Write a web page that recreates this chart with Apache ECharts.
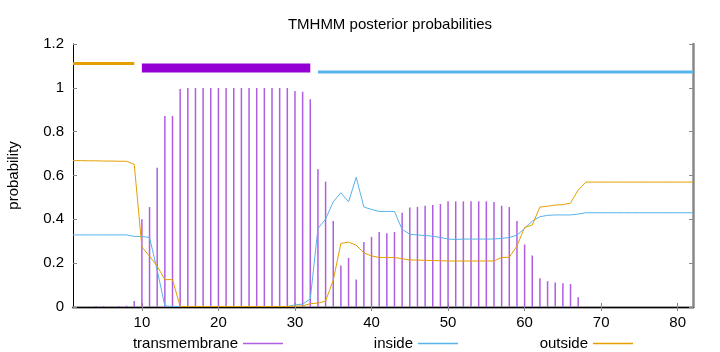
<!DOCTYPE html>
<html style="height: 100%">
<head>
    <meta charset="utf-8">
    <title>TMHMM posterior probabilities</title>
</head>
<body style="height: 100%; margin: 0">
    <div id="container" style="width: 720px; height: 352px"></div>
    <script type="text/javascript" src="https://cdn.jsdelivr.net/npm/echarts@6/dist/echarts.min.js"></script>
    <script type="text/javascript">
        // residue positions 1..82
        var positions = [];
        for (var i = 1; i <= 82; i++) positions.push(i);

        var transmembrane = [
            0, 0, 0, 0.005, 0.005, 0, 0.005, 0.006, 0.027, 0.40,
            0.456, 0.635, 0.872, 0.872, 0.995, 0.999, 0.999, 0.999, 0.999, 0.999,
            0.999, 0.999, 0.999, 0.999, 0.999, 0.999, 0.999, 0.999, 0.999, 0.986,
            0.982, 0.948, 0.628, 0.572, 0.392, 0.189, 0.224, 0.125, 0.297, 0.32,
            0.342, 0.337, 0.342, 0.43, 0.454, 0.457, 0.462, 0.465, 0.47, 0.482,
            0.482, 0.482, 0.482, 0.482, 0.482, 0.479, 0.462, 0.456, 0.392, 0.285,
            0.235, 0.131, 0.118, 0.112, 0.108, 0.105, 0.044, 0, 0, 0,
            0, 0, 0, 0, 0, 0, 0, 0, 0, 0,
            0, 0
        ];
        var inside = [
            0.329, 0.329, 0.329, 0.329, 0.329, 0.329, 0.329, 0.329, 0.322, 0.322,
            0.317, 0.168, 0.005, 0.002, 0.002, 0.002, 0.002, 0.002, 0.002, 0.002,
            0.002, 0.002, 0.002, 0.002, 0.002, 0.002, 0.002, 0.002, 0.002, 0.01,
            0.013, 0.037, 0.358, 0.401, 0.48, 0.521, 0.48, 0.592, 0.456, 0.445,
            0.436, 0.436, 0.436, 0.354, 0.332, 0.329, 0.326, 0.323, 0.317, 0.31,
            0.308, 0.31, 0.31, 0.31, 0.31, 0.31, 0.313, 0.317, 0.328, 0.358,
            0.392, 0.412, 0.418, 0.42, 0.42, 0.42, 0.424, 0.43, 0.43, 0.43,
            0.43, 0.43, 0.43, 0.43, 0.43, 0.43, 0.43, 0.43, 0.43, 0.43,
            0.43, 0.43
        ];
        var outside = [
            0.668, 0.668, 0.667, 0.667, 0.666, 0.666, 0.665, 0.665, 0.651, 0.274,
            0.232, 0.186, 0.125, 0.125, 0.002, 0.002, 0.002, 0.002, 0.002, 0.002,
            0.002, 0.002, 0.002, 0.002, 0.002, 0.002, 0.002, 0.002, 0.002, 0.004,
            0.005, 0.015, 0.018, 0.027, 0.122, 0.29, 0.296, 0.282, 0.247, 0.233,
            0.226, 0.226, 0.226, 0.22, 0.215, 0.214, 0.213, 0.212, 0.211, 0.21,
            0.21, 0.21, 0.21, 0.21, 0.21, 0.21, 0.226, 0.227, 0.278, 0.363,
            0.374, 0.456, 0.46, 0.465, 0.467, 0.474, 0.534, 0.57, 0.57, 0.57,
            0.57, 0.57, 0.57, 0.57, 0.57, 0.57, 0.57, 0.57, 0.57, 0.57,
            0.57, 0.57
        ];

        // predicted topology segments drawn above the curves
        var topOutside = [[1, 1.111], [9, 1.111]];
        var topHelix   = [[10, 1.091], [32, 1.091]];
        var topInside  = [[33, 1.072], [82, 1.072]];

        var xTicks = [10, 20, 30, 40, 50, 60, 70, 80];

        function zip(ys) {
            return positions.map(function (p, k) { return [p, ys[k]]; });
        }

        var font = 'Liberation Sans';
        var dom     = document.getElementById("container");
        var myChart = echarts.init(dom);

        function legendAt(name, right) {
            return {
                data: [name],
                right: right,
                top: 331,
                align: 'right',
                icon: 'rect',
                itemWidth: 40,
                itemHeight: 1.5,
                itemGap: 0,
                textStyle: {fontFamily: font, fontSize: 15, color: '#000'}
            };
        }

        var option = {
            animation: false,
            title: {
                text: 'TMHMM posterior probabilities',
                left: 385,
                textAlign: 'center',
                top: 12,
                textStyle: {fontFamily: font, fontSize: 15, fontWeight: 'normal', color: '#000'}
            },
            legend: [
                legendAt('transmembrane', 432),
                legendAt('inside', 257),
                legendAt('outside', 82)
            ],
            grid: {left: 73, right: 27, top: 44, bottom: 45, outerBoundsMode: 'none'},
            xAxis: [{
                type: 'value',
                min: 1,
                max: 82,
                axisLine: {lineStyle: {color: '#888', width: 2.5}},
                axisTick: {inside: true, length: 4, customValues: xTicks, lineStyle: {color: '#888'}},
                axisLabel: {customValues: xTicks, margin: 8, fontFamily: font, fontSize: 15, color: '#000'},
                splitLine: {show: false}
            }, {
                type: 'value',
                position: 'top',
                min: 1,
                max: 82,
                axisLine: {lineStyle: {color: '#000', width: 1}},
                axisTick: {inside: true, length: 4, customValues: xTicks, lineStyle: {color: '#888'}},
                axisLabel: {show: false},
                splitLine: {show: false}
            }],
            yAxis: [{
                type: 'value',
                min: 0,
                max: 1.2,
                interval: 0.2,
                name: 'probability',
                nameLocation: 'middle',
                nameGap: 52,
                nameTextStyle: {fontFamily: font, fontSize: 15, color: '#000'},
                axisLine: {show: true, lineStyle: {color: '#000', width: 1}},
                axisTick: {inside: true, length: 4, lineStyle: {color: '#888'}},
                axisLabel: {margin: 9, fontFamily: font, fontSize: 15, color: '#000'},
                splitLine: {show: false}
            }, {
                type: 'value',
                position: 'right',
                min: 0,
                max: 1.2,
                interval: 0.2,
                axisLine: {show: true, lineStyle: {color: '#888', width: 2.5}},
                axisTick: {show: true, inside: true, length: 4, lineStyle: {color: '#888'}},
                axisLabel: {show: false},
                splitLine: {show: false}
            }],
            series: [{
                name: 'transmembrane',
                type: 'bar',
                barWidth: 1.5,
                itemStyle: {color: '#b05ee0'},
                data: zip(transmembrane)
            }, {
                name: 'inside',
                type: 'line',
                showSymbol: false,
                itemStyle: {color: '#56b4e9'},
                lineStyle: {color: '#56b4e9', width: 1},
                data: zip(inside)
            }, {
                name: 'outside',
                type: 'line',
                showSymbol: false,
                itemStyle: {color: '#e69f00'},
                lineStyle: {color: '#e69f00', width: 1},
                data: zip(outside)
            }, {
                name: 'top-outside',
                type: 'line',
                showSymbol: false,
                lineStyle: {color: '#e69f00', width: 3},
                data: topOutside
            }, {
                name: 'top-helix',
                type: 'line',
                showSymbol: false,
                lineStyle: {color: '#9400d3', width: 9},
                data: topHelix
            }, {
                name: 'top-inside',
                type: 'line',
                showSymbol: false,
                lineStyle: {color: '#56b4e9', width: 3},
                data: topInside
            }]
        };

        myChart.setOption(option, true);
    </script>
</body>
</html>
